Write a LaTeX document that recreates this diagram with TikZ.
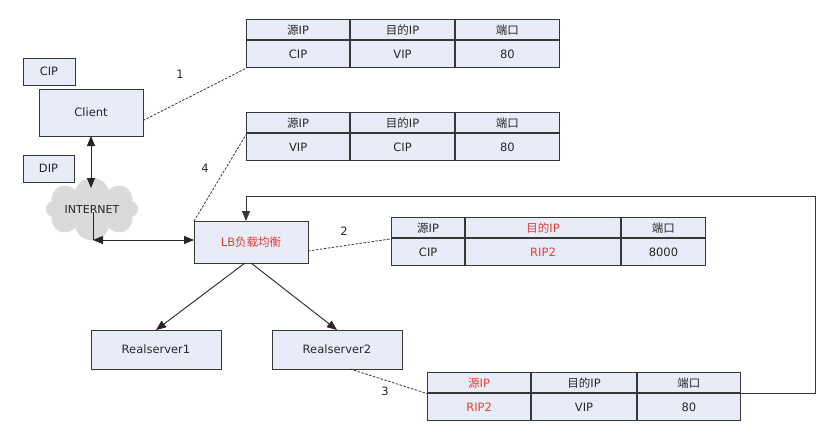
\documentclass[tikz,border=0pt]{standalone}
\usepackage{fontspec}
\setmainfont{DejaVu Sans}
\newfontfamily\cjk{Noto Sans CJK SC}
\usetikzlibrary{arrows.meta, matrix, shapes.symbols}
\definecolor{boxfill}{RGB}{232, 236, 248}
\definecolor{boxline}{RGB}{55, 55, 55}
\definecolor{txtred}{RGB}{235, 60, 50}
\definecolor{txtdark}{RGB}{40, 40, 40}
\definecolor{cloudgray}{RGB}{218, 218, 218}
\def\zh#1{{\cjk #1}}

\begin{document}
\begin{tikzpicture}[x=1pt, y=-1pt, font=\fontsize{11.5}{13}\selectfont]
\tikzset{
    box/.style={draw=boxline, fill=boxfill, line width=0.9pt, text=txtdark, inner sep=0, outer sep=0},
    redtxt/.style={text=txtred},
    iptable/.style={matrix of nodes, anchor=north west, inner sep=0,
        nodes={box}, row 1/.style={nodes={minimum height=20pt}},
        row 2/.style={nodes={minimum height=27pt}}},
    cols/.style n args={3}{column 1/.style={nodes={minimum width=#1}},
        column 2/.style={nodes={minimum width=#2}},
        column 3/.style={nodes={minimum width=#3}}},
    link/.style={dash pattern=on 2.5pt off 1.5pt, line width=0.8pt, boxline},
    arr/.style={line width=0.9pt, black!85, -{Triangle[length=10pt, width=8pt]}},
    twoarr/.style={line width=0.9pt, black!85, {Triangle[length=10pt, width=8pt]}-{Triangle[length=10pt, width=8pt]}},
    steplabel/.style={text=txtdark, inner sep=1pt}
}
\useasboundingbox (0,0) rectangle (839,447);

% left side
\node[box, minimum width=52pt, minimum height=27pt] (cip) at (49,71.5) {CIP};
\node[box, minimum width=104pt, minimum height=47pt] (client) at (91,112.5) {Client};
\node[box, minimum width=51pt, minimum height=27pt] (dip) at (48.5,168.5) {DIP};
\node[cloud, cloud puffs=8, aspect=1.8, fill=cloudgray, draw=cloudgray!90,
    minimum width=92pt, minimum height=52pt, inner sep=0, text=txtdark,
    font=\fontsize{11}{12}\selectfont] (net) at (92,209) {INTERNET};
\coordinate (netc) at (93,240);

% balancer and servers
\node[box, minimum width=114pt, minimum height=42pt, text=txtred] (lb) at (251,242) {LB\zh{负载均衡}};
\node[box, minimum width=130pt, minimum height=39pt] (rs1) at (156,349.5) {Realserver1};
\node[box, minimum width=130pt, minimum height=39pt] (rs2) at (337,349.5) {Realserver2};

% packets
\matrix (t1) [iptable, cols={103pt}{104pt}{104pt}] at (246,19) {
    \zh{源}IP & \zh{目的}IP & \zh{端口} \\
    CIP & VIP & 80 \\
};
\matrix (t2) [iptable, cols={103pt}{104pt}{104pt}] at (246,112) {
    \zh{源}IP & \zh{目的}IP & \zh{端口} \\
    VIP & CIP & 80 \\
};
\matrix (t3) [iptable, cols={73pt}{155pt}{84pt}] at (391,217) {
    \zh{源}IP & |[redtxt]| \zh{目的}IP & \zh{端口} \\
    CIP & |[redtxt]| RIP2 & 8000 \\
};
\matrix (t4) [iptable, cols={103pt}{105pt}{103pt}] at (427,372) {
    |[redtxt]| \zh{源}IP & \zh{目的}IP & \zh{端口} \\
    |[redtxt]| RIP2 & VIP & 80 \\
};
\coordinate (ret) at (815,196);

% connectors
\draw[twoarr] (client.south) -- (91,188);
\draw[line width=0.9pt, black!85] ([yshift=-3pt]net.center -| netc) -- (netc);
\draw[twoarr] (netc) -- (lb.west |- netc);
\draw[arr] ([xshift=-6pt]lb.south) -- (rs1.north);
\draw[arr] (lb.south) -- (rs2.north);
\draw[arr, boxline] (t4-2-3.north east) -| (ret) -| ([xshift=-5pt]lb.north);

\draw[link] ([yshift=-8pt]client.east) -- (t1.south west);
\draw[link] (lb.north west) -- (t2-2-1.north west);
\draw[link] ([yshift=-9pt]lb.east) -- (t3-2-1.north west);
\draw[link] ([xshift=13pt]rs2.south) -- (t4-2-1.north west);

\node[steplabel] (n1) at (180,74) {1};
\node[steplabel] (n4) at (205,168) {4};
\node[steplabel] (n2) at (344,231) {2};
\node[steplabel] (n3) at (385,391) {3};
\end{tikzpicture}
\end{document}
